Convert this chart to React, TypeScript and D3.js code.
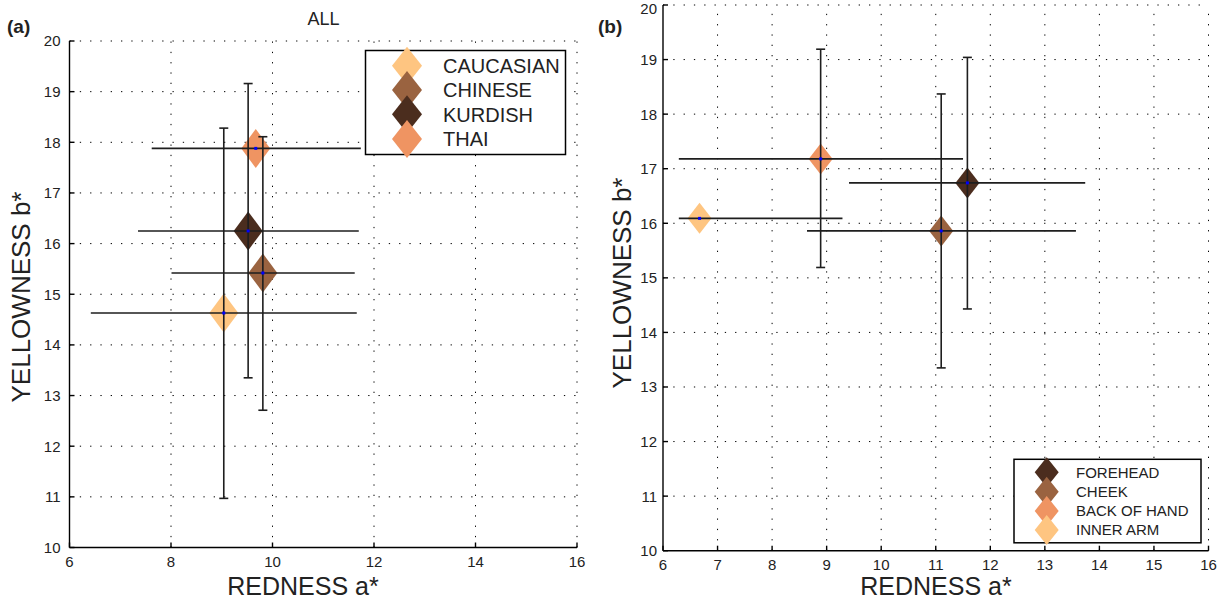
import React from 'react';
import * as d3 from 'd3';

// panel (a): ethnic groups
const groupsA = ['CAUCASIAN', 'CHINESE', 'KURDISH', 'THAI'];
const colorsA = ['#fec581', '#9a6340', '#4b2d1e', '#ef9462'];
const redA = [9.04, 9.81, 9.52, 9.67];
const redLoA = [6.42, 8.01, 7.35, 7.62];
const redHiA = [11.66, 11.62, 11.70, 11.74];
const yelA = [14.63, 15.42, 16.25, 17.88];
const yelLoA: (number | null)[] = [10.97, 12.71, 13.35, null];
const yelHiA: (number | null)[] = [18.28, 18.11, 19.16, null];

// panel (b): body sites
const groupsB = ['FOREHEAD', 'CHEEK', 'BACK OF HAND', 'INNER ARM'];
const colorsB = ['#4b2d1e', '#9a6340', '#ef9462', '#fec581'];
const redB = [11.58, 11.1, 8.89, 6.67];
const redLoB = [9.41, 8.64, 6.29, 6.29];
const redHiB = [13.74, 13.57, 11.5, 9.29];
const yelB = [16.74, 15.86, 17.18, 16.09];
const yelLoB: (number | null)[] = [14.43, 13.35, 15.19, null];
const yelHiB: (number | null)[] = [19.04, 18.37, 19.19, null];

const xTicksA = [6, 8, 10, 12, 14, 16];
const xTicksB = [6, 7, 8, 9, 10, 11, 12, 13, 14, 15, 16];
const yTicks = [10, 11, 12, 13, 14, 15, 16, 17, 18, 19, 20];

const FONT = '"Liberation Sans", Arial, Helvetica, sans-serif';
const INK = '#222';

interface PanelProps {
  x0: number; x1: number; y0: number; y1: number;
  xTicks: number[];
  groups: string[]; colors: string[];
  red: number[]; redLo: number[]; redHi: number[];
  yel: number[]; yelLo: (number | null)[]; yelHi: (number | null)[];
  dw: number; dh: number;
  tickGap: number; tickBase: number;
}

const diamond = (cx: number, cy: number, w: number, h: number) =>
  `M${cx},${cy - h}L${cx + w},${cy}L${cx},${cy + h}L${cx - w},${cy}Z`;

const Panel: React.FC<PanelProps> = (p) => {
  const x = d3.scaleLinear().domain([6, 16]).range([p.x0, p.x1]);
  const y = d3.scaleLinear().domain([10, 20]).range([p.y1, p.y0]);
  const idx = p.groups.map((_, i) => i);
  return (
    <g>
      {/* dotted grid */}
      <g stroke="#000" strokeWidth={1} strokeDasharray="1.3,9" fill="none">
        {p.xTicks.filter((t) => t !== 6).map((t) => (
          <line key={'gx' + t} x1={x(t)} x2={x(t)} y1={p.y1} y2={p.y0} />
        ))}
        {yTicks.filter((t) => t !== 10).map((t) => (
          <line key={'gy' + t} x1={p.x0} x2={p.x1} y1={y(t)} y2={y(t)} />
        ))}
      </g>
      {/* axes */}
      <g stroke="#000" strokeWidth={1.4}>
        <line x1={p.x0} x2={p.x0} y1={p.y0} y2={p.y1} />
        <line x1={p.x0} x2={p.x1} y1={p.y1} y2={p.y1} />
        {yTicks.map((t) => (
          <line key={'ty' + t} x1={p.x0} x2={p.x0 + 5} y1={y(t)} y2={y(t)} />
        ))}
        {p.xTicks.map((t) => (
          <line key={'tx' + t} x1={x(t)} x2={x(t)} y1={p.y1} y2={p.y1 - 5} />
        ))}
      </g>
      <g fontFamily={FONT} fontSize={15} fill={INK}>
        {yTicks.map((t) => (
          <text key={'ly' + t} x={p.x0 - p.tickGap} y={Math.max(y(t), 8.5)} dy="0.36em" textAnchor="end">{t}</text>
        ))}
        {p.xTicks.map((t) => (
          <text key={'lx' + t} x={x(t)} y={p.tickBase} textAnchor="middle">{t}</text>
        ))}
      </g>
      {/* markers */}
      {idx.map((i) => (
        <path key={'d' + i} d={diamond(x(p.red[i]), y(p.yel[i]), p.dw, p.dh)} fill={p.colors[i]} />
      ))}
      {/* error bars */}
      <g stroke="#1e1e1e" strokeWidth={1.6}>
        {idx.map((i) => (
          <line key={'h' + i} x1={x(p.redLo[i])} x2={x(p.redHi[i])} y1={y(p.yel[i])} y2={y(p.yel[i])} />
        ))}
        {idx.map((i) => {
          const lo = p.yelLo[i];
          const hi = p.yelHi[i];
          if (lo == null || hi == null) return null;
          const cx = x(p.red[i]);
          return (
            <g key={'v' + i}>
              <line x1={cx} x2={cx} y1={y(lo)} y2={y(hi)} />
              <line x1={cx - 4.5} x2={cx + 4.5} y1={y(lo)} y2={y(lo)} />
              <line x1={cx - 4.5} x2={cx + 4.5} y1={y(hi)} y2={y(hi)} />
            </g>
          );
        })}
      </g>
      {idx.map((i) => (
        <rect key={'c' + i} x={x(p.red[i]) - 1.5} y={y(p.yel[i]) - 1.5} width={3} height={3} fill="#0000ff" />
      ))}
    </g>
  );
};

interface LegendProps {
  x: number; y: number; w: number; h: number;
  groups: string[]; colors: string[];
  mx: number; tx: number; rows: number[];
  dw: number; dh: number; fontSize: number;
}

const Legend: React.FC<LegendProps> = (l) => (
  <g>
    <rect x={l.x} y={l.y} width={l.w} height={l.h} fill="#fff" stroke="#000" strokeWidth={1.5} />
    {l.groups.map((g, i) => (
      <g key={g}>
        <path d={diamond(l.mx, l.rows[i], l.dw, l.dh)} fill={l.colors[i]} />
        <text x={l.tx} y={l.rows[i]} dy="0.36em" fontFamily={FONT} fontSize={l.fontSize} fill={INK}>{g}</text>
      </g>
    ))}
  </g>
);

export default function App() {
  return (
    <svg width={1221} height={604} style={{ position: 'absolute', left: 0, top: 0, background: '#fff' }}>
      {/* panel a */}
      <Panel x0={69.5} x1={577} y0={41} y1={547.5} xTicks={xTicksA}
        groups={groupsA} colors={colorsA} red={redA} redLo={redLoA} redHi={redHiA}
        yel={yelA} yelLo={yelLoA} yelHi={yelHiA} dw={14.5} dh={19.5} tickGap={9} tickBase={567} />
      <Legend x={365.5} y={50.5} w={200} h={104} groups={groupsA} colors={colorsA}
        mx={407} tx={443} rows={[65.7, 90, 114.3, 139]} dw={15} dh={19} fontSize={20} />
      <text x={323.5} y={25} textAnchor="middle" fontFamily={FONT} fontSize={18} fill={INK}>ALL</text>
      <text x={7} y={33} fontFamily={FONT} fontSize={19} fontWeight="bold" fill={INK}>(a)</text>
      <text x={303} y={595} textAnchor="middle" fontFamily={FONT} fontSize={25} fill={INK}>REDNESS a*</text>
      <text transform="translate(30,297) rotate(-90)" textAnchor="middle" fontFamily={FONT} fontSize={26} fill={INK}>YELLOWNESS b*</text>

      {/* panel b */}
      <Panel x0={663} x1={1208.5} y0={5} y1={550.7} xTicks={xTicksB}
        groups={groupsB} colors={colorsB} red={redB} redLo={redLoB} redHi={redHiB}
        yel={yelB} yelLo={yelLoB} yelHi={yelHiB} dw={12} dh={15.5} tickGap={6} tickBase={570} />
      <Legend x={1014} y={459.3} w={187} h={83.5} groups={groupsB} colors={colorsB}
        mx={1046.7} tx={1076} rows={[472.3, 491.7, 511, 530]} dw={12} dh={15} fontSize={15} />
      <text x={598} y={33} fontFamily={FONT} fontSize={19} fontWeight="bold" fill={INK}>(b)</text>
      <text x={936} y={595} textAnchor="middle" fontFamily={FONT} fontSize={25} fill={INK}>REDNESS a*</text>
      <text transform="translate(631,283) rotate(-90)" textAnchor="middle" fontFamily={FONT} fontSize={26} fill={INK}>YELLOWNESS b*</text>
    </svg>
  );
}
